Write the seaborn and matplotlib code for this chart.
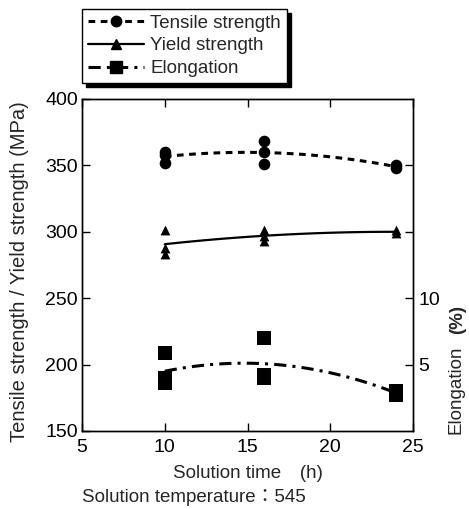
import numpy as np
import pandas as pd
import matplotlib
matplotlib.use('Agg')
import matplotlib.pyplot as plt
from matplotlib.lines import Line2D
import seaborn as sns

# values
time_ts = [10, 10, 10, 16, 16, 16, 24, 24]
tensile = [360, 358, 352, 368, 360, 351, 350, 348]

time_ys = [10, 10, 10, 16, 16, 16, 24, 24]
yield_s = [301, 288, 283, 301, 297, 293, 301, 299]

time_el = [10, 10, 10, 16, 16, 16, 24, 24]
elong = [5.9, 4.0, 3.6, 7.0, 4.2, 4.0, 3.0, 2.7]

sns.set_theme(style='ticks')
plt.rcParams['font.family'] = ['Liberation Sans', 'Noto Sans CJK JP', 'DejaVu Sans']
plt.rcParams['font.size'] = 13.5

fig = plt.figure(figsize=(4.69, 5.09), dpi=100)
ax = fig.add_axes([82/469, 1-431/509, 331/469, 332/509])
ax2 = ax.twinx()

ts = pd.DataFrame({'t': time_ts, 'v': tensile})
ys = pd.DataFrame({'t': time_ys, 'v': yield_s})
el = pd.DataFrame({'t': time_el, 'v': elong})

sns.scatterplot(data=ts, x='t', y='v', ax=ax, marker='o', s=70, color='black',
                edgecolor='black', linewidth=0, zorder=3)
sns.regplot(data=ts, x='t', y='v', ax=ax, order=2, ci=None, scatter=False,
            line_kws=dict(color='black', lw=2.2, dashes=(2.2, 1.8)))

sns.scatterplot(data=ys, x='t', y='v', ax=ax, marker='^', s=50, color='black',
                edgecolor='black', linewidth=0, zorder=3)
sns.regplot(data=ys, x='t', y='v', ax=ax, order=2, ci=None, scatter=False,
            line_kws=dict(color='black', lw=1.6))

sns.scatterplot(data=el, x='t', y='v', ax=ax2, marker='s', s=95, color='black',
                edgecolor='black', linewidth=0, zorder=3)
sns.regplot(data=el, x='t', y='v', ax=ax2, order=2, ci=None, scatter=False,
            line_kws=dict(color='black', lw=2.2, dashes=(4, 2, 1, 2)))

ax.set_xlim(5, 25)
ax.set_ylim(150, 400)
ax2.set_ylim(0, 25)
ax.set_xticks([5, 10, 15, 20, 25])
ax.set_yticks([150, 200, 250, 300, 350, 400])
ax2.set_yticks([5, 10, 15, 20])
ax2.set_yticklabels(['5', '10', '', ''])

for a in (ax, ax2):
    a.tick_params(direction='in', length=6, width=1, colors='black',
                  labelsize=14, pad=3)
    for sp in a.spines.values():
        sp.set_color('black')
        sp.set_linewidth(1)
ax.tick_params(top=True, right=False)
ax.tick_params(axis='x', labeltop=False, pad=6)
ax2.tick_params(axis='y', pad=4)

ax.set_xlabel('Solution time\u3000(h)', fontsize=13.5)
ax.xaxis.set_label_coords(0.5, -0.102)
ax.set_ylabel('Tensile strength / Yield strength (MPa)', fontsize=14.5)
ax.yaxis.set_label_coords(-0.16, 0.479)
ax2.set_ylabel('')
fig.text(456/469, 1-346/509, 'Elongation', rotation=90, ha='center', va='top',
         fontsize=13.5)
fig.text(458/469, 1-334/509, '(%)', rotation=90, ha='center', va='bottom',
         fontsize=13.5, fontweight='bold')

fig.text(82/469, 1-498/509, 'Solution temperature\uff1a545', ha='left', va='center',
         fontsize=13.5)

handles = [
    Line2D([], [], color='black', lw=2.2, dashes=(2.2, 1.8), marker='o', ms=7.5),
    Line2D([], [], color='black', lw=1.6, marker='^', ms=6.5),
    Line2D([], [], color='black', lw=2.2, dashes=(4, 2, 1, 2), marker='s', ms=9),
]
labels = ['Tensile strength', 'Yield strength', 'Elongation']
leg = fig.legend(handles, labels, loc='upper left',
                 bbox_to_anchor=(82/469, 1-9/509), frameon=True, fancybox=False,
                 shadow={'ox': 3, 'oy': -3, 'facecolor': 'black',
                         'edgecolor': 'black', 'alpha': 1},
                 handlelength=3.0, handletextpad=0.35, labelspacing=0.3,
                 borderpad=0.3, borderaxespad=0, numpoints=1, fontsize=13.5)
leg.get_frame().set_edgecolor('black')
leg.get_frame().set_linewidth(1)
leg.get_frame().set_facecolor('white')

fig.savefig('out.png', dpi=100)
